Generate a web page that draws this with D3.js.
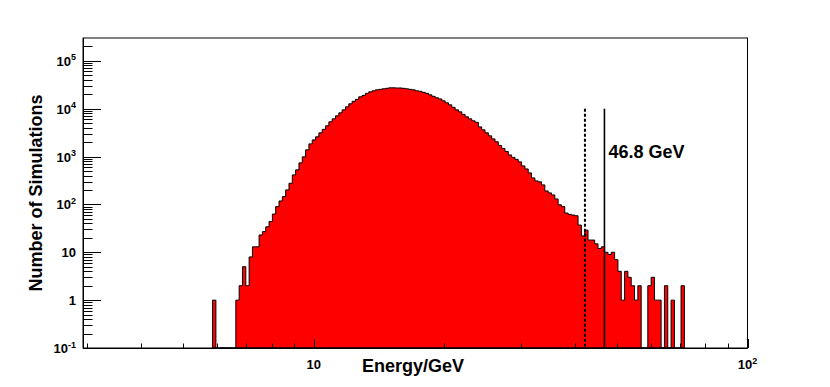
<!DOCTYPE html>
<html>
<head>
<meta charset="utf-8">
<script src="https://cdn.jsdelivr.net/npm/d3@7"></script>
<style>
  html, body { margin: 0; padding: 0; background: #fff; }
  svg { display: block; font-family: 'Liberation Sans', Arial, Helvetica, sans-serif; font-weight: bold; }
</style>
</head>
<body>
<div id="chart"></div>
<script>
// histogram binning (log-uniform bins over the x range)
var eMin = 2.94, eMax = 100, nBins = 200;
var firstBin = 39;
// counts per bin, starting at bin index firstBin
var binCounts = [
    1, 0, 0, 0, 0, 0, 0,
    1, 2, 5, 2, 8, 13, 13, 23, 27, 34, 44, 63, 90, 118, 146, 201, 277, 414, 527, 738,
    985, 1380, 1840, 2230, 2580, 3130, 3700, 4380, 5310, 6140, 7090, 8190, 9460, 10930,
    12630, 14250, 15680, 17700, 19010, 20940, 22500, 23610, 24770, 25390, 26000, 26650,
    27300, 27300, 27100, 27100, 26650, 26000, 25390, 24770, 23610, 23050, 21970, 20940,
    19500, 18130, 16870, 16000, 14590, 13250, 12030, 10670, 9460, 8590, 7620, 6760, 6140,
    5580, 5190, 4170, 3610, 3130, 2710, 2340, 2030, 1710, 1480, 1280, 1080, 961, 873, 774,
    638, 552, 456, 358, 310, 296, 256, 191, 174, 158, 130, 98, 90, 66, 62, 60, 58, 37, 22,
    29, 18, 18, 15, 12, 13, 10, 9, 10, 7, 4, 1, 4, 3, 2, 1, 2, 0, 0, 2, 3, 1, 1, 0, 2, 0,
    1, 0, 0, 2
];
// vertical cut lines: dashed one, then the labelled solid one
var cutEnergies = [42.2, 46.8];
var cutTop = 1e4;
var cutLabel = "46.8 GeV";

var xMajorTicks = [10, 100];
var xMinorTicks = [3, 4, 5, 6, 7, 8, 9, 20, 30, 40, 50, 60, 70, 80, 90];
var yDecades = [-1, 0, 1, 2, 3, 4, 5];
var yMin = 0.1, yMax = 3e5;

var width = 830, height = 387;
var margins = {left: 83, right: 82.5, top: 38, bottom: 39};

var svg = d3.select("#chart").append("svg")
    .attr("width", width)
    .attr("height", height);

var x = d3.scaleLog().domain([eMin, eMax]).range([margins.left, width - margins.right]);
var y = d3.scaleLog().domain([yMin, yMax]).range([height - margins.bottom, margins.top]);
var x0 = x.range()[0], x1 = x.range()[1], yb = y.range()[0], yt = y.range()[1];

svg.append("clipPath").attr("id", "plotclip")
  .append("rect").attr("x", x0).attr("y", yt).attr("width", x1 - x0).attr("height", yb - yt);

// bin edges
var logStep = Math.log10(eMax / eMin) / nBins;
function edge(i) { return eMin * Math.pow(10, i * logStep); }
function yVal(v) { return v > 0 ? y(v) : yb; }

// step outline of the histogram
var pts = [[x(edge(firstBin)), yb]];
binCounts.forEach(function(v, k) {
    var i = firstBin + k;
    pts.push([x(edge(i)), yVal(v)]);
    pts.push([x(edge(i + 1)), yVal(v)]);
});
pts.push([x(edge(firstBin + binCounts.length)), yb]);

svg.append("path")
    .attr("clip-path", "url(#plotclip)")
    .attr("d", d3.line()(pts) + "Z")
    .attr("fill", "#ff0000")
    .attr("stroke", "#000")
    .attr("stroke-width", 1);

// cut lines
svg.selectAll(".cut").data(cutEnergies).enter().append("line")
    .attr("class", "cut")
    .attr("x1", function(d) { return x(d); })
    .attr("x2", function(d) { return x(d); })
    .attr("y1", y(cutTop))
    .attr("y2", yb)
    .attr("stroke", "#000")
    .attr("stroke-width", function(d, i) { return i === 0 ? 2 : 1.6; })
    .attr("stroke-dasharray", function(d, i) { return i === 0 ? "3,2" : null; });

svg.append("text")
    .attr("x", x(cutEnergies[1]) + 4)
    .attr("y", 158)
    .style("font-size", "18px")
    .text(cutLabel);

// frame
svg.append("rect")
    .attr("x", x0).attr("y", yt)
    .attr("width", x1 - x0).attr("height", yb - yt)
    .attr("fill", "none")
    .attr("stroke", "#000")
    .attr("stroke-width", 1);
svg.append("line").attr("x1", x0 + 0.5).attr("x2", x0 + 0.5).attr("y1", yt).attr("y2", yb + 0.5)
    .attr("stroke", "#000");
svg.append("line").attr("x1", x0).attr("x2", x1).attr("y1", yb + 0.5).attr("y2", yb + 0.5)
    .attr("stroke", "#000");

// x axis ticks
var gx = svg.append("g");
gx.selectAll(".xmaj").data(xMajorTicks).enter().append("line")
    .attr("x1", function(d) { return Math.round(x(d)) + 0.5; })
    .attr("x2", function(d) { return Math.round(x(d)) + 0.5; })
    .attr("y1", yb).attr("y2", yb - 9)
    .attr("stroke", "#000");
gx.selectAll(".xmin").data(xMinorTicks).enter().append("line")
    .attr("x1", function(d) { return Math.round(x(d)) + 0.5; })
    .attr("x2", function(d) { return Math.round(x(d)) + 0.5; })
    .attr("y1", yb).attr("y2", yb - 4.5)
    .attr("stroke", "#000");

// power-of-ten labels
function powLabel(sel, d) {
    if(d === 0) { sel.text("1"); return; }
    if(d === 1) { sel.text("10"); return; }
    sel.append("tspan").text("10");
    sel.append("tspan").attr("dy", -5.5).style("font-size", "9px").text(d);
}
gx.selectAll(".xlab").data(xMajorTicks).enter().append("text")
    .attr("x", function(d) { return x(d); })
    .attr("y", yb + 21)
    .attr("text-anchor", "middle")
    .style("font-size", "13px")
    .each(function(d) { powLabel(d3.select(this), Math.round(Math.log10(d))); });

// y axis ticks
var gy = svg.append("g");
var yMinor = [];
yDecades.forEach(function(p) {
    for(var k = 2; k <= 9; k++) {
        var v = k * Math.pow(10, p);
        if(v < yMax) yMinor.push(v);
    }
});
gy.selectAll(".ymaj").data(yDecades).enter().append("line")
    .attr("x1", x0).attr("x2", x0 + 18)
    .attr("y1", function(d) { return Math.round(y(Math.pow(10, d))) + 0.5; })
    .attr("y2", function(d) { return Math.round(y(Math.pow(10, d))) + 0.5; })
    .attr("stroke", "#000");
gy.selectAll(".ymin").data(yMinor).enter().append("line")
    .attr("x1", x0).attr("x2", x0 + 9.5)
    .attr("y1", function(d) { return Math.round(y(d)) + 0.5; })
    .attr("y2", function(d) { return Math.round(y(d)) + 0.5; })
    .attr("stroke", "#000");
gy.selectAll(".ylab").data(yDecades).enter().append("text")
    .attr("x", 76)
    .attr("y", function(d) { return y(Math.pow(10, d)) + 5; })
    .attr("text-anchor", "end")
    .style("font-size", "13px")
    .each(function(d) { powLabel(d3.select(this), d); });

// axis titles
svg.append("text")
    .attr("x", 413).attr("y", 372)
    .attr("text-anchor", "middle")
    .style("font-size", "18px")
    .text("Energy/GeV");
svg.append("text")
    .attr("transform", "translate(42,193) rotate(-90)")
    .attr("text-anchor", "middle")
    .style("font-size", "18px")
    .text("Number of Simulations");
</script>
</body>
</html>
